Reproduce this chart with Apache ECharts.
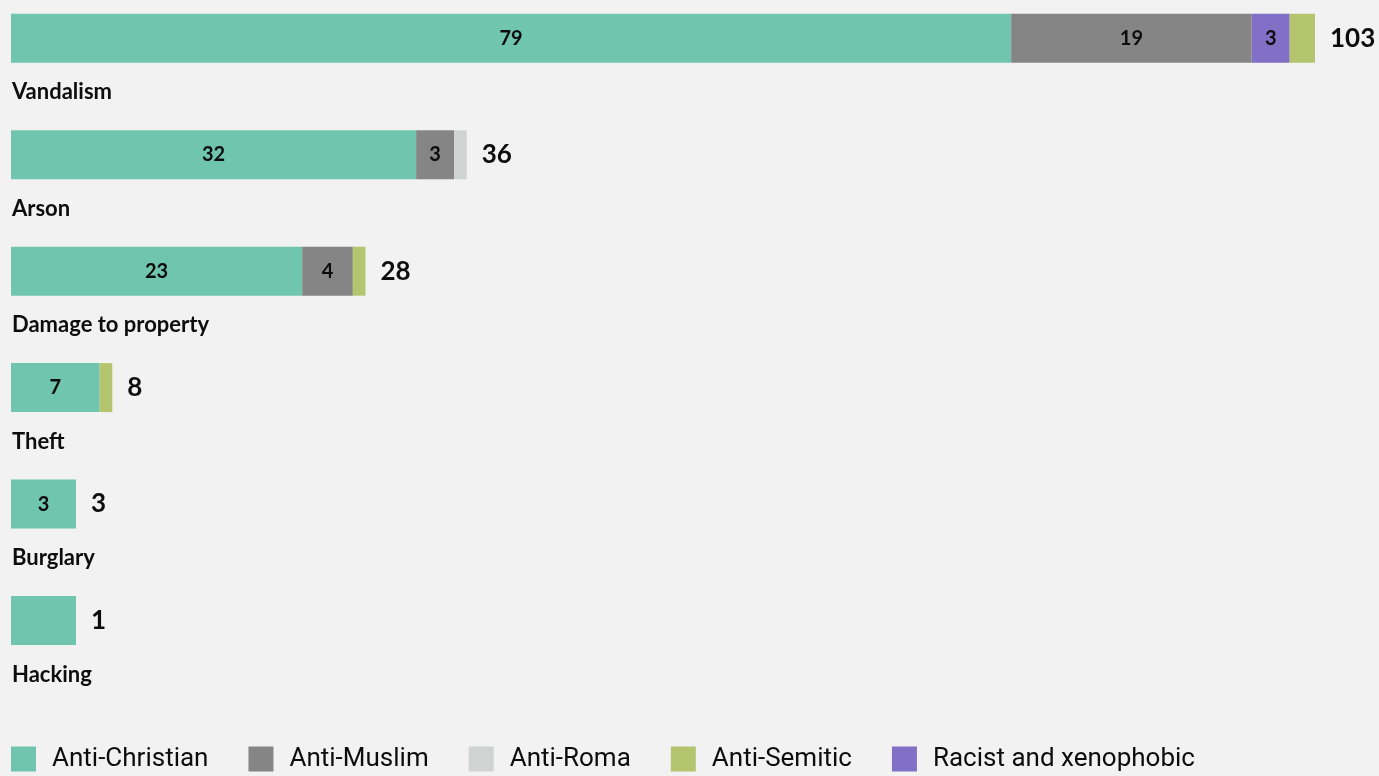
<!DOCTYPE html>
<html>
<head>
<meta charset="utf-8">
<title>Incidents by type and bias motivation</title>
<script src="https://cdn.jsdelivr.net/npm/echarts@6/dist/echarts.min.js"></script>
<style>
  html, body { margin: 0; padding: 0; background: #f2f2f2; }
  #chart { width: 1379px; height: 776px; }
</style>
</head>
<body>
<div id="chart"></div>
<script>
// Incident types, top to bottom
const categories = ['Vandalism', 'Arson', 'Damage to property', 'Theft', 'Burglary', 'Hacking'];

// Counts per bias motivation, one value per incident type
const antiChristian = [79, 32, 23, 7, 3, 1];
const antiMuslim    = [19, 3, 4, 0, 0, 0];
const antiRoma      = [0, 1, 0, 0, 0, 0];
const racist        = [3, 0, 0, 0, 0, 0];
const antiSemitic   = [2, 0, 1, 1, 0, 0];

const seriesNames = ['Anti-Christian', 'Anti-Muslim', 'Anti-Roma', 'Anti-Semitic', 'Racist and xenophobic'];

// Totals per incident type, shown at the end of each bar
const totals = categories.map((_, i) =>
  antiChristian[i] + antiMuslim[i] + antiRoma[i] + racist[i] + antiSemitic[i]);

const FONT = 'Lato';
const LEGEND_FONT = 'Roboto';
const TEXT = '#0d0d0d';
const MIN_SEGMENT_LABEL = 3;   // smaller segments stay unlabelled
const MIN_BAR_PX = 65;         // very short bars are drawn at least this long
const NAME_OFFSET = 54;        // category name sits under its bar

const colors = {
  'Anti-Christian': '#6fc5ad',
  'Anti-Muslim': '#858585',
  'Anti-Roma': '#cfd3d2',
  'Anti-Semitic': '#b5c56f',
  'Racist and xenophobic': '#826fc6'
};

function segment(name, values, extra) {
  return Object.assign({
    name: name,
    type: 'bar',
    stack: 'incidents',
    data: values,
    barWidth: 49,
    barGap: '-100%',
    itemStyle: { color: colors[name] },
    emphasis: { disabled: true },
    label: {
      show: true,
      position: 'inside',
      fontFamily: FONT,
      fontWeight: 'bold',
      fontSize: 20,
      color: TEXT,
      formatter: p => (p.value >= MIN_SEGMENT_LABEL ? String(p.value) : '')
    }
  }, extra || {});
}

const chart = echarts.init(document.getElementById('chart'), null, { renderer: 'canvas' });

chart.setOption({
  backgroundColor: '#f2f2f2',
  animation: false,
  grid: { left: 11, right: 0.7, top: -19.9, height: 698.6, outerBoundsMode: 'none', containLabel: false },
  xAxis: { type: 'value', min: 0, max: 108, show: false },
  yAxis: {
    type: 'category',
    data: categories,
    inverse: true,
    axisLine: { show: false },
    axisTick: { show: false },
    splitLine: { show: false },
    axisLabel: { show: false }
  },
  legend: {
    data: seriesNames,
    left: 11,
    top: 746,
    padding: 0,
    icon: 'rect',
    itemWidth: 25,
    itemHeight: 25,
    itemGap: 40,
    selectedMode: false,
    textStyle: {
      fontFamily: LEGEND_FONT,
      fontSize: 26,
      color: TEXT,
      padding: [4, 0, 0, 11]
    }
  },
  series: [
    segment('Anti-Christian', antiChristian, { barMinHeight: MIN_BAR_PX }),
    segment('Anti-Muslim', antiMuslim),
    segment('Anti-Roma', antiRoma),
    segment('Racist and xenophobic', racist),
    segment('Anti-Semitic', antiSemitic),
    {
      name: 'Total',
      type: 'bar',
      data: totals,
      barWidth: 49,
      barGap: '-100%',
      barMinHeight: MIN_BAR_PX,
      silent: true,
      itemStyle: { color: 'rgba(0,0,0,0)' },
      label: {
        show: true,
        position: 'right',
        distance: 15,
        fontFamily: FONT,
        fontWeight: 'bold',
        fontSize: 26,
        color: TEXT
      }
    },
    {
      // Category names, placed under each bar at the axis origin
      name: 'Names',
      type: 'custom',
      coordinateSystem: 'cartesian2d',
      clip: false,
      silent: true,
      data: categories.map(c => [0, c]),
      renderItem: function (params, api) {
        const p = api.coord([0, api.value(1)]);
        return {
          type: 'text',
          x: p[0] + 1,
          y: p[1] + NAME_OFFSET,
          style: {
            text: categories[params.dataIndex],
            fill: TEXT,
            fontFamily: FONT,
            fontWeight: 'bold',
            fontSize: 22,
            align: 'left',
            verticalAlign: 'middle'
          }
        };
      }
    }
  ]
});
</script>
</body>
</html>
